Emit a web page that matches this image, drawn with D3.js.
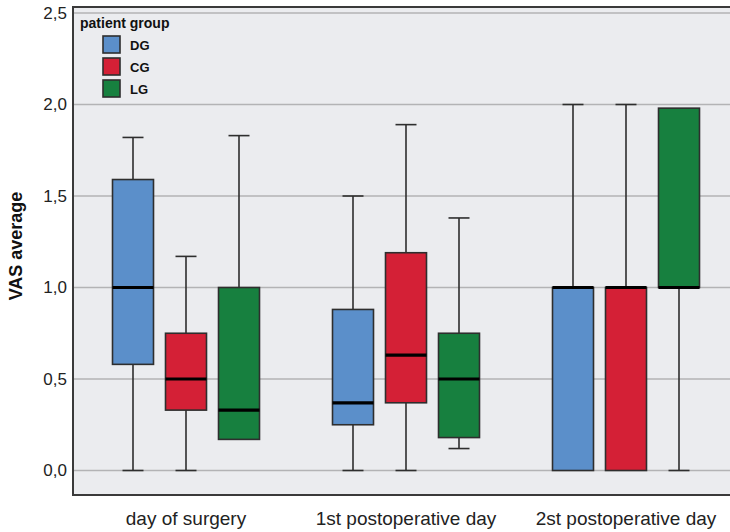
<!DOCTYPE html>
<html>
<head>
<meta charset="utf-8">
<script src="https://cdn.jsdelivr.net/npm/d3@7/dist/d3.min.js"></script>
<style>
  html, body { margin: 0; padding: 0; background: #ffffff; }
  svg { display: block; font-family: "Liberation Sans", Arial, Helvetica, sans-serif; }
</style>
</head>
<body>
<svg id="chart" width="730" height="532"></svg>
<script>
// Days on the x axis and patient groups within each day
const categories = ["day of surgery", "1st postoperative day", "2st postoperative day"];
const groups = ["DG", "CG", "LG"];
const groupColors = ["#5b8fca", "#d42036", "#17803f"];

// Box-plot statistics (VAS average), one value per day, for each group
const dgMin    = [0.00, 0.00, 0.00];
const dgQ1     = [0.58, 0.25, 0.00];
const dgMedian = [1.00, 0.37, 1.00];
const dgQ3     = [1.59, 0.88, 1.00];
const dgMax    = [1.82, 1.50, 2.00];

const cgMin    = [0.00, 0.00, 0.00];
const cgQ1     = [0.33, 0.37, 0.00];
const cgMedian = [0.50, 0.63, 1.00];
const cgQ3     = [0.75, 1.19, 1.00];
const cgMax    = [1.17, 1.89, 2.00];

const lgMin    = [0.17, 0.12, 0.00];
const lgQ1     = [0.17, 0.18, 1.00];
const lgMedian = [0.33, 0.50, 1.00];
const lgQ3     = [1.00, 0.75, 1.98];
const lgMax    = [1.83, 1.38, 1.98];

const yTicks = [0, 0.5, 1.0, 1.5, 2.0, 2.5];
const legendTitle = "patient group";
const yTitle = "VAS average";

const stats = {
  DG: { min: dgMin, q1: dgQ1, median: dgMedian, q3: dgQ3, max: dgMax },
  CG: { min: cgMin, q1: cgQ1, median: cgMedian, q3: cgQ3, max: cgMax },
  LG: { min: lgMin, q1: lgQ1, median: lgMedian, q3: lgQ3, max: lgMax }
};

const boxes = [];
categories.forEach((c, i) => {
  groups.forEach((g, j) => {
    const s = stats[g];
    boxes.push({ category: c, group: g, color: groupColors[j],
      min: s.min[i], q1: s.q1[i], median: s.median[i], q3: s.q3[i], max: s.max[i] });
  });
});

const svg = d3.select("#chart");
const plot = { left: 73, right: 730, top: 7, bottom: 495 };

const y = d3.scaleLinear().domain([0, 2.5]).range([470.5, 13]);
const x = d3.scaleBand().domain(categories).range([76, 736]).paddingInner(0).paddingOuter(0);
const xg = d3.scaleBand().domain(groups).range([-79.5, 79.5]).paddingInner(0.226).paddingOuter(0.113);
const boxW = 41, capW = 21;

const locale = d3.formatLocale({ decimal: ",", thousands: ".", grouping: [3], currency: ["", ""] });
const fmt = locale.format(".1f");

// plot background
svg.append("rect")
  .attr("x", plot.left).attr("y", plot.top)
  .attr("width", plot.right - plot.left).attr("height", plot.bottom - plot.top)
  .attr("fill", "#ebecef");

// horizontal grid lines
svg.append("g").selectAll("line").data(yTicks).join("line")
  .attr("x1", plot.left).attr("x2", plot.right)
  .attr("y1", d => y(d)).attr("y2", d => y(d))
  .attr("stroke", "#b3b3b5").attr("stroke-width", 1.5);

// frame: left, top and bottom edges
svg.append("path")
  .attr("d", `M${plot.right},${plot.top}H${plot.left}V${plot.bottom}H${plot.right}`)
  .attr("fill", "none").attr("stroke", "#3a3a3a").attr("stroke-width", 2);

// y axis
const yAxis = svg.append("g")
  .attr("transform", `translate(${plot.left},0)`)
  .call(d3.axisLeft(y).tickValues(yTicks).tickFormat(fmt).tickSize(0).tickPadding(6));
yAxis.select(".domain").remove();
yAxis.selectAll("text")
  .attr("font-size", 17).attr("fill", "#222")
  .attr("font-family", "'Liberation Sans', Arial, sans-serif");

// x axis
const xAxis = svg.append("g")
  .attr("transform", `translate(0,${plot.bottom})`)
  .call(d3.axisBottom(x).tickSize(0).tickPadding(17));
xAxis.select(".domain").remove();
xAxis.selectAll("text")
  .attr("font-size", 19).attr("fill", "#222")
  .attr("font-family", "'Liberation Sans', Arial, sans-serif");

// y axis title
svg.append("text")
  .attr("transform", "translate(22,246) rotate(-90)")
  .attr("text-anchor", "middle")
  .attr("font-size", 18).attr("font-weight", "bold").attr("fill", "#111")
  .text(yTitle);

// box plots
const bx = d => x(d.category) + x.bandwidth() / 2 + xg(d.group) + xg.bandwidth() / 2;
const g = svg.append("g").selectAll("g").data(boxes).join("g")
  .attr("transform", d => `translate(${bx(d)},0)`);

const stroke = "#2e2e2e";
// upper whisker and cap
g.filter(d => d.max > d.q3).append("line")
  .attr("x1", 0).attr("x2", 0).attr("y1", d => y(d.q3)).attr("y2", d => y(d.max))
  .attr("stroke", stroke).attr("stroke-width", 1.6);
g.filter(d => d.max > d.q3).append("line")
  .attr("x1", -capW / 2).attr("x2", capW / 2).attr("y1", d => y(d.max)).attr("y2", d => y(d.max))
  .attr("stroke", stroke).attr("stroke-width", 1.6);
// lower whisker and cap
g.filter(d => d.min < d.q1).append("line")
  .attr("x1", 0).attr("x2", 0).attr("y1", d => y(d.q1)).attr("y2", d => y(d.min))
  .attr("stroke", stroke).attr("stroke-width", 1.6);
g.filter(d => d.min < d.q1).append("line")
  .attr("x1", -capW / 2).attr("x2", capW / 2).attr("y1", d => y(d.min)).attr("y2", d => y(d.min))
  .attr("stroke", stroke).attr("stroke-width", 1.6);
// box
g.append("rect")
  .attr("x", -boxW / 2).attr("width", boxW)
  .attr("y", d => y(d.q3)).attr("height", d => y(d.q1) - y(d.q3))
  .attr("fill", d => d.color).attr("stroke", stroke).attr("stroke-width", 1.6);
// median
g.append("line")
  .attr("x1", -boxW / 2).attr("x2", boxW / 2)
  .attr("y1", d => y(d.median)).attr("y2", d => y(d.median))
  .attr("stroke", "#000").attr("stroke-width", 3.2);

// legend
const legend = svg.append("g");
legend.append("text")
  .attr("x", 80).attr("y", 28)
  .attr("font-size", 14).attr("font-weight", "bold").attr("fill", "#111")
  .text(legendTitle);
const li = legend.selectAll("g.item").data(groups).join("g").attr("class", "item")
  .attr("transform", (d, i) => `translate(103,${36 + i * 22})`);
li.append("rect")
  .attr("width", 17).attr("height", 17)
  .attr("fill", (d, i) => groupColors[i]).attr("stroke", stroke).attr("stroke-width", 1.6);
li.append("text")
  .attr("x", 27).attr("y", 14)
  .attr("font-size", 13).attr("font-weight", "bold").attr("fill", "#111")
  .text(d => d);
</script>
</body>
</html>
